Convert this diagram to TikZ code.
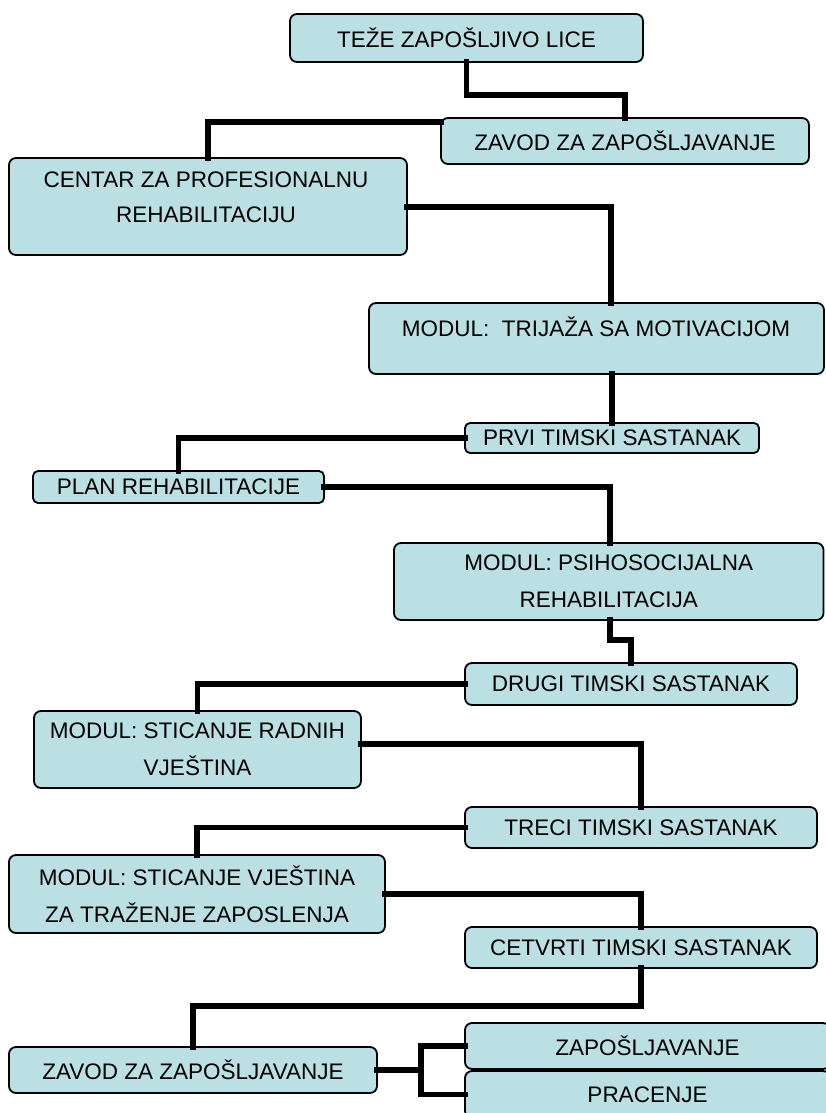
\documentclass[tikz,border=0pt]{standalone}
\usepackage{fontspec}
\setmainfont{Liberation Sans}
\definecolor{boxfill}{RGB}{186,224,227}
\begin{document}
\begin{tikzpicture}[x=1pt,y=-1pt,
  box/.style={draw=black, line width=1.8pt, fill=boxfill, rounded corners=7pt,
    inner sep=0pt, outer sep=0pt, align=center,
    font=\fontsize{22.5}{37}\selectfont},
  boxtext/.style={inner sep=0pt, align=center, font=\fontsize{22.5}{35}\selectfont},
  link/.style={draw=black, line width=5.5pt, line cap=rect, line join=miter}]
\useasboundingbox (0,0) rectangle (826,1113);
\clip (0,0) rectangle (826,1113);

% junction of the last fork
\coordinate (j) at (421,1070);

% boxes
\node[box, minimum width=353pt, minimum height=48pt] (b1) at (466.5,38) {TEŽE ZAPOŠLJIVO LICE};
\node[box, minimum width=368pt, minimum height=46pt] (b2) at (625,141) {ZAVOD ZA ZAPOŠLJAVANJE};
\node[box, minimum width=398pt, minimum height=97pt] (b3) at (208,206.5) {};
\node[box, minimum width=455pt, minimum height=71pt] (b4) at (596.5,338.5) {};
\node[box, minimum width=294pt, minimum height=30pt, rounded corners=5pt] (b5) at (612,438) {PRVI TIMSKI SASTANAK};
\node[box, minimum width=291pt, minimum height=32pt, rounded corners=5pt] (b6) at (178.5,487) {PLAN REHABILITACIJE};
\node[box, minimum width=429.5pt, minimum height=77pt] (b7) at (608.75,581.5) {MODUL: PSIHOSOCIJALNA\\REHABILITACIJA};
\node[box, minimum width=332pt, minimum height=42pt] (b8) at (631,684) {DRUGI TIMSKI SASTANAK};
\node[box, minimum width=327pt, minimum height=77pt] (b9) at (197.5,749.5) {MODUL: STICANJE RADNIH\\VJEŠTINA};
\node[box, minimum width=352pt, minimum height=41pt] (b10) at (641,827.5) {TRECI TIMSKI SASTANAK};
\node[box, minimum width=376pt, minimum height=78pt] (b11) at (197,894) {MODUL: STICANJE VJEŠTINA\\ZA TRAŽENJE ZAPOSLENJA};
\node[box, minimum width=352pt, minimum height=41pt] (b12) at (641,947.5) {CETVRTI TIMSKI SASTANAK};
\node[box, minimum width=368pt, minimum height=46pt] (b13) at (193,1070) {ZAVOD ZA ZAPOŠLJAVANJE};
\node[box, minimum width=365pt, minimum height=46pt] (b14) at (647.5,1046) {ZAPOŠLJAVANJE};
\node[box, minimum width=365pt, minimum height=47pt] (b15) at (647.5,1094.5) {PRACENJE};

% texts set high inside their boxes
\node[boxtext] (t3) at (206,197.5) {CENTAR ZA PROFESIONALNU\\REHABILITACIJU};
\node[boxtext] (t4) at (596,327) {MODUL:~~TRIJAŽA SA MOTIVACIJOM};

% connectors
\draw[link] (b1.south) -- ++(0,33) -| (b2.north);
\draw[link] (b2.west |- 0,122) -| (b3.north);
\draw[link] (b3.east |- 0,207) -| (b4.north -| 611,0);
\draw[link] (b4.south -| b5.north) -- (b5.north);
\draw[link] (b5.west) -| (b6.north);
\draw[link] (b6.east) -| (b7.north -| 610,0);
\draw[link] (b7.south -| 610,0) -- (610,640) -| (b8.north);
\draw[link] (b8.west) -| (b9.north);
\draw[link] (b9.east |- 0,744) -| (b10.north);
\draw[link] (b10.west) -| (b11.north);
\draw[link] (b11.east) -| (b12.north);
\draw[link] (b12.south) -- ++(0,38) -| (b13.north);
\draw[link] (b13.east) -- (j);
\draw[link] (b14.west) -| (j) |- (b15.west);
\end{tikzpicture}
\end{document}
